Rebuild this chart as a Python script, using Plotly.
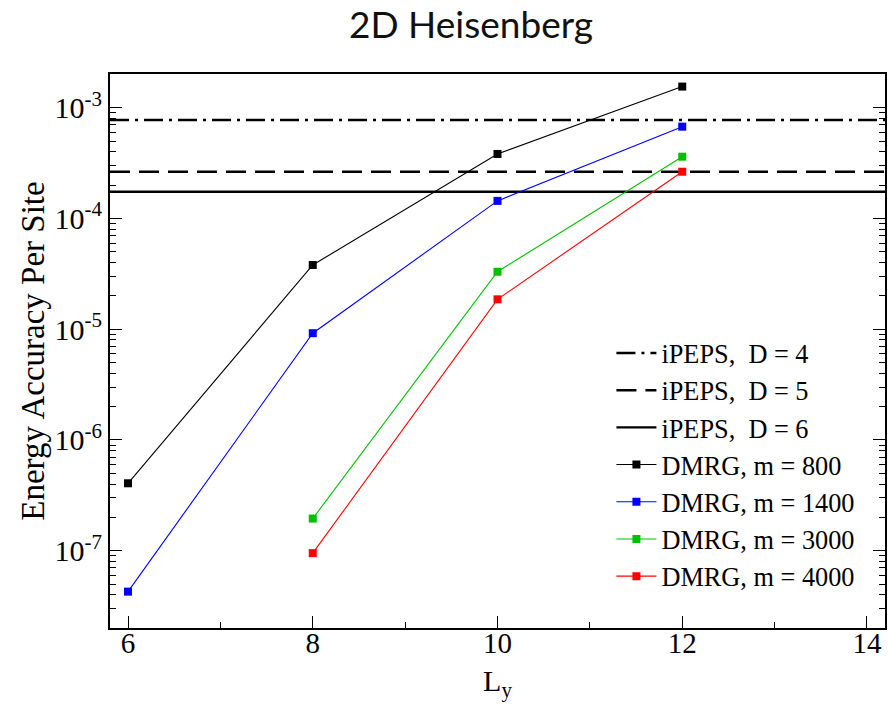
import plotly.graph_objects as go

# ---- data ----
Ly = [6, 8, 10, 12]
m800 = [4.06e-7, 3.80e-5, 3.82e-4, 1.55e-3]
Ly_m1400 = [6, 8, 10, 12]
m1400 = [4.27e-8, 9.2e-6, 1.44e-4, 6.74e-4]
Ly_m3000 = [8, 10, 12]
m3000 = [1.95e-7, 3.30e-5, 3.61e-4]
Ly_m4000 = [8, 10, 12]
m4000 = [9.5e-8, 1.86e-5, 2.64e-4]
ipeps_D = [4, 5, 6]
ipeps_val = [7.74e-4, 2.64e-4, 1.74e-4]

X_RANGE = [5.805, 14.195]
Y_RANGE_LOG = [-7.698, -2.696]
x_ticks = [6, 8, 10, 12, 14]
y_tick_vals = [1e-7, 1e-6, 1e-5, 1e-4, 1e-3]
y_tick_text = ["10<sup>-7</sup>", "10<sup>-6</sup>", "10<sup>-5</sup>", "10<sup>-4</sup>", "10<sup>-3</sup>"]

SERIF = "Liberation Serif"
# the page body has an 8px margin, so the figure is sized to fit the window
W, H = 887, 703

fig = go.Figure()

dashes = ["19px,6px,3px,6px", "20px,9px", "solid"]
for i, (D, v) in enumerate(zip(ipeps_D, ipeps_val)):
    fig.add_trace(go.Scatter(
        x=X_RANGE, y=[v, v], mode="lines",
        line=dict(color="black", width=2.4, dash=dashes[i]),
        name=f"iPEPS,  D = {D}",
    ))

series = [
    (Ly, m800, "black", "DMRG, m = 800"),
    (Ly_m1400, m1400, "#0000ff", "DMRG, m = 1400"),
    (Ly_m3000, m3000, "#00c000", "DMRG, m = 3000"),
    (Ly_m4000, m4000, "#ff0000", "DMRG, m = 4000"),
]
for j, (xs, ys, c, nm) in enumerate(series):
    fig.add_trace(go.Scatter(
        x=xs, y=ys, mode="lines+markers",
        line=dict(color=c, width=1.1),
        marker=dict(symbol="square", size=8, color=c),
        name=nm,
    ))

fig.update_layout(
    width=W, height=H,
    paper_bgcolor="white", plot_bgcolor="white",
    margin=dict(l=102, r=10, t=66, b=83),
    title=dict(text="2D Heisenberg", x=463/W, xanchor="center", y=1-17/H, yanchor="middle",
               font=dict(family="Lato", size=37, color="#111")),
    showlegend=True,
    legend=dict(x=0.647, y=0.539, xanchor="left", yanchor="top",
                bgcolor="rgba(255,255,255,0)", font=dict(family=SERIF, size=26.3, color="black"),
                itemwidth=40),
    font=dict(family=SERIF, color="black"),
)
fig.update_xaxes(
    range=X_RANGE, tickvals=x_ticks, ticks="inside", ticklen=12, tickwidth=1, tickcolor="black",
    showline=True, linecolor="black", linewidth=2, mirror=True, showgrid=False, zeroline=False,
    tickfont=dict(family=SERIF, size=29), automargin=False, ticklabelstandoff=-12,
    minor=dict(dtick=1, ticks="inside", ticklen=6, tickcolor="black", showgrid=False),
    title=dict(text="L<sub>y</sub>", font=dict(family=SERIF, size=30), standoff=12),
)
fig.update_yaxes(
    type="log", range=Y_RANGE_LOG, tickvals=y_tick_vals, ticktext=y_tick_text,
    ticks="inside", ticklen=12, tickwidth=1, tickcolor="black",
    showline=True, linecolor="black", linewidth=2, mirror="ticks", showgrid=False, zeroline=False,
    tickfont=dict(family=SERIF, size=30), automargin=False,
    minor=dict(tickvals=[k * 10.0**e for e in range(-8, -2) for k in range(2, 10)],
               ticks="inside", ticklen=6, tickcolor="black", showgrid=False),
    title=dict(text="Energy Accuracy Per Site", font=dict(family=SERIF, size=33), standoff=0),
)

fig.write_html("out.html")
